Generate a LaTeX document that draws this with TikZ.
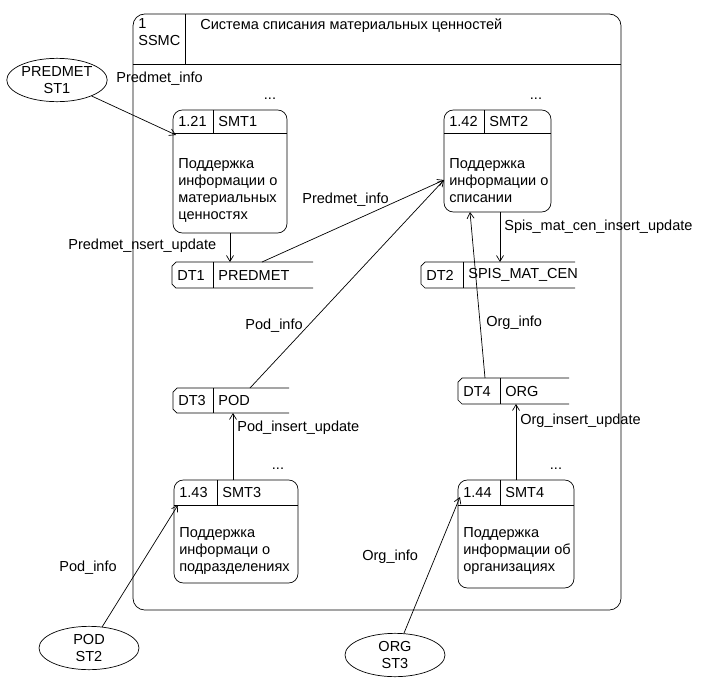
\documentclass[tikz,border=0pt]{standalone}
\usepackage{fontspec}
\setmainfont{Liberation Sans}
\usetikzlibrary{shapes.geometric,fit,arrows.meta}
\begin{document}
\begin{tikzpicture}[x=0.03cm,y=-0.03cm,semithick,
  every node/.style={font=\fontsize{12.4}{14.5}\selectfont,inner sep=0pt},
  proc/.style={draw,rounded corners=8,inner sep=0pt},
  ext/.style={draw,ellipse,minimum width=3cm,minimum height=1.3cm,align=center},
  lbl/.style={anchor=west},
  flow/.style={-{Straight Barb[length=5pt,width=6pt]}}]
\useasboundingbox (0,0) rectangle (716,695);

% outer system
\node[proc,rounded corners=10,fit={(133,14) (621,610)}] (ssmc) {};
\draw (133,64) -- (621,64);
\draw (185,14) -- (185,64);
\node[anchor=north west,align=left] at (138,18) {1\\SSMC};
\node[anchor=north west] at (200,18) {Система списания материальных ценностей};

% processes
\node[proc,fit={(173,110) (287,233)}] (smt1) {};
\draw (173,133) -- (287,133); \draw (213,110) -- (213,133);
\node[lbl] at (178,121) {1.21}; \node[lbl] at (218,121) {SMT1};
\node at (270,99) {...};
\node[anchor=north west,align=left] at (178,158) {Поддержка\\информации о\\материальных\\ценностях};

\node[proc,fit={(444,110) (551,212)}] (smt2) {};
\draw (444,133) -- (551,133); \draw (484,110) -- (484,133);
\node[lbl] at (449,121) {1.42}; \node[lbl] at (489,121) {SMT2};
\node at (536,99) {...};
\node[anchor=north west,align=left] at (449,158) {Поддержка\\информации о\\списании};

\node[proc,fit={(174,480) (298,583)}] (smt3) {};
\draw (174,505) -- (298,505); \draw (217,480) -- (217,505);
\node[lbl] at (179,492) {1.43}; \node[lbl] at (222,492) {SMT3};
\node at (278,469) {...};
\node[anchor=north west,align=left] at (179,527) {Поддержка\\информаци о\\подразделениях};

\node[proc,fit={(458,480) (574,588)}] (smt4) {};
\draw (458,505) -- (574,505); \draw (500,480) -- (500,505);
\node[lbl] at (463,492) {1.44}; \node[lbl] at (505,492) {SMT4};
\node at (556,469) {...};
\node[anchor=north west,align=left] at (463,527) {Поддержка\\информации об\\организациях};

% data stores
\node[fit={(172,262) (313,288)}] (dt1) {};
\draw (313,262) -- (176,262) -- (172,266) -- (172,284) -- (176,288) -- (313,288);
\draw (213,262) -- (213,288);
\node[lbl] at (177,275) {DT1}; \node[lbl] at (218,275) {PREDMET};

\node[fit={(421,262) (575,288)}] (dt2) {};
\draw (575,262) -- (425,262) -- (421,266) -- (421,284) -- (425,288) -- (575,288);
\draw (463,262) -- (463,288);
\node[lbl] at (426,275) {DT2}; \node[lbl] at (468,275) {SPIS\_MAT\_CEN};

\node[fit={(173,388) (289,413)}] (dt3) {};
\draw (289,388) -- (177,388) -- (173,392) -- (173,409) -- (177,413) -- (289,413);
\draw (213,388) -- (213,413);
\node[lbl] at (178,400) {DT3}; \node[lbl] at (218,400) {POD};

\node[fit={(458,378) (569,404)}] (dt4) {};
\draw (569,378) -- (462,378) -- (458,382) -- (458,400) -- (462,404) -- (569,404);
\draw (500,378) -- (500,404);
\node[lbl] at (463,391) {DT4}; \node[lbl] at (505,391) {ORG};

% external entities
\node[ext] (st1) at (57,80) {PREDMET\\ST1};
\node[ext] (st2) at (89,648) {POD\\ST2};
\node[ext] (st3) at (395,655) {ORG\\ST3};

% flows
\draw[flow] (st1) -- (176,135);
\node[lbl] at (116,79) {Predmet\_info};
\draw[flow] (smt1.south) -- (230,262);
\node[lbl] at (68,246) {Predmet\_nsert\_update};
\draw[flow] (262,262) -- (444,180);
\node[lbl] at (302,200) {Predmet\_info};
\draw[flow] (500,212) -- (500,262);
\node[lbl] at (504,227) {Spis\_mat\_cen\_insert\_update};
\draw[flow] (250,388) -- (444,180);
\node[lbl] at (245,326) {Pod\_info};
\draw[flow] (485,378) -- (470,212);
\node[lbl] at (486,323) {Org\_info};
\draw[flow] (233,480) -- (233,413);
\node[lbl] at (237,428) {Pod\_insert\_update};
\draw[flow] (516,480) -- (516,404);
\node[lbl] at (520,421) {Org\_insert\_update};
\draw[flow] (st2) -- (178,505);
\node[lbl] at (59,568) {Pod\_info};
\draw[flow] (st3) -- (460,497);
\node[lbl] at (362,557) {Org\_info};
\end{tikzpicture}
\end{document}
